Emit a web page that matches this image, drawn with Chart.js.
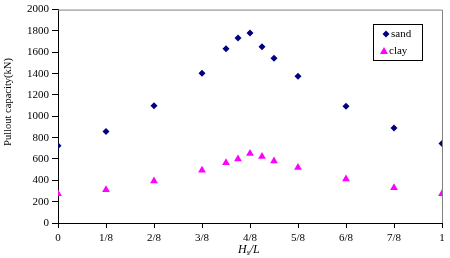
<!DOCTYPE html>
<html>
<head>
<meta charset="utf-8">
<script src="https://cdn.jsdelivr.net/npm/chart.js@4"></script>
<style>
  html, body { margin: 0; padding: 0; background: #fff; }
  #wrap { width: 450px; height: 258px; }
</style>
</head>
<body>
<div id="wrap"><canvas id="c" width="450" height="258"></canvas></div>
<script>
const xPos = [0, 0.125, 0.25, 0.375, 0.4375, 0.46875, 0.5, 0.53125, 0.5625, 0.625, 0.75, 0.875, 1];
const sand = [725, 858, 1100, 1404, 1633, 1734, 1780, 1651, 1545, 1376, 1095, 890, 746];
const clay = [275, 312, 394, 495, 565, 600, 651, 624, 581, 520, 412, 330, 275];
const xTickLabels = ['0', '1/8', '2/8', '3/8', '4/8', '5/8', '6/8', '7/8', '1'];

const serif = 'Liberation Serif';

const toPts = (ys) => xPos.map((x, i) => ({ x, y: ys[i] }));

// grey box on top/right, legend and axis titles
const decor = {
  id: 'decor',
  beforeDatasetsDraw(chart) {
    const { ctx, chartArea: a } = chart;
    ctx.save();
    ctx.strokeStyle = '#808080';
    ctx.lineWidth = 1;
    ctx.beginPath();
    ctx.moveTo(a.left, a.top + 0.5);
    ctx.lineTo(a.right + 0.5, a.top + 0.5);
    ctx.lineTo(a.right + 0.5, a.bottom);
    ctx.stroke();
    ctx.restore();
  },
  afterDraw(chart) {
    const { ctx } = chart;
    ctx.save();
    // y title
    ctx.fillStyle = '#000';
    ctx.font = `10.5px "${serif}"`;
    ctx.translate(8, 102);
    ctx.rotate(-Math.PI / 2);
    ctx.textAlign = 'center';
    ctx.textBaseline = 'middle';
    ctx.fillText('Pullout capacity(kN)', 0, 0);
    ctx.restore();

    // x title: H_s/L
    ctx.save();
    ctx.fillStyle = '#000';
    ctx.textBaseline = 'alphabetic';
    let x = 238, y = 253;
    ctx.font = `italic 12px "${serif}"`;
    ctx.fillText('H', x, y);
    x += ctx.measureText('H').width;
    ctx.font = `italic 8px "${serif}"`;
    ctx.fillText('s', x, y + 2);
    x += ctx.measureText('s').width;
    ctx.font = `italic 12px "${serif}"`;
    ctx.fillText('/L', x, y);
    ctx.restore();

    // legend
    ctx.save();
    const lx = 373, ly = 24, lw = 49, lh = 36;
    ctx.fillStyle = '#fff';
    ctx.fillRect(lx, ly, lw, lh);
    ctx.strokeStyle = '#000';
    ctx.lineWidth = 1;
    ctx.strokeRect(lx + 0.5, ly + 0.5, lw, lh);
    ctx.fillStyle = '#000';
    ctx.font = `11px "${serif}"`;
    ctx.textBaseline = 'middle';
    ctx.fillText('sand', 391, 34);
    ctx.fillText('clay', 389, 51);
    // markers
    ctx.fillStyle = '#000080';
    ctx.beginPath();
    ctx.moveTo(386, 30.5); ctx.lineTo(389.5, 34); ctx.lineTo(386, 37.5); ctx.lineTo(382.5, 34);
    ctx.closePath(); ctx.fill();
    ctx.fillStyle = '#ff00ff';
    ctx.beginPath();
    ctx.moveTo(384, 47); ctx.lineTo(388, 54); ctx.lineTo(380, 54);
    ctx.closePath(); ctx.fill();
    ctx.restore();
  }
};

new Chart(document.getElementById('c'), {
  type: 'scatter',
  data: {
    datasets: [
      {
        label: 'sand',
        data: toPts(sand),
        pointStyle: 'rectRot',
        pointRadius: 3.5,
        backgroundColor: '#000080',
        borderColor: '#000080',
        borderWidth: 0
      },
      {
        label: 'clay',
        data: toPts(clay),
        pointStyle: 'triangle',
        pointRadius: 4.5,
        backgroundColor: '#ff00ff',
        borderColor: '#ff00ff',
        borderWidth: 0
      }
    ]
  },
  options: {
    responsive: false,
    animation: false,
    layout: { padding: { top: 5, right: 8, left: 0, bottom: 0 } },
    plugins: {
      legend: { display: false },
      tooltip: { enabled: false }
    },
    scales: {
      x: {
        type: 'linear',
        min: 0,
        max: 1,
        afterFit: (s) => { s.height = 35; },
        afterBuildTicks: (s) => { s.ticks = xTickLabels.map((_, i) => ({ value: i / 8 })); },
        ticks: {
          color: '#000',
          font: { family: serif, size: 11 },
          padding: 4,
          maxRotation: 0,
          callback: (v, i) => xTickLabels[i]
        },
        grid: { drawOnChartArea: false, tickLength: 5, color: '#000' },
        border: { color: '#000' }
      },
      y: {
        min: 0,
        max: 2000,
        afterFit: (s) => { s.width = 58; },
        ticks: {
          stepSize: 200,
          color: '#000',
          font: { family: serif, size: 11 },
          padding: 3,
          callback: (v) => String(v)
        },
        grid: { drawOnChartArea: false, tickLength: 6, color: '#000' },
        border: { color: '#000' }
      }
    }
  },
  plugins: [decor]
});
</script>
</body>
</html>
